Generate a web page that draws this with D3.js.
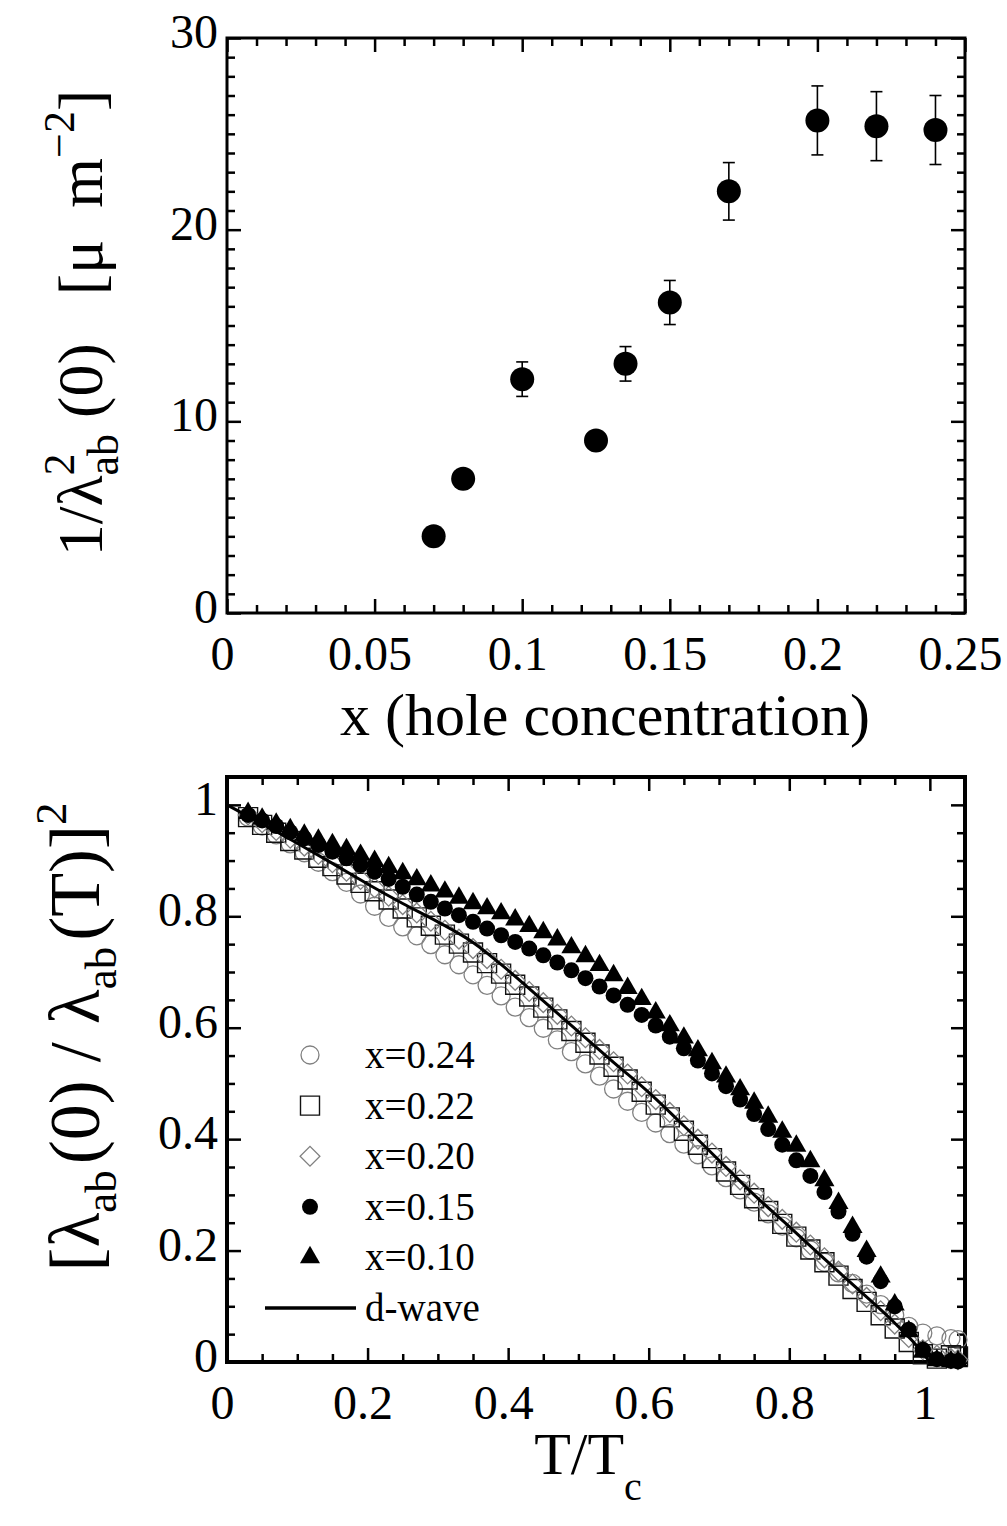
<!DOCTYPE html>
<html>
<head>
<meta charset="utf-8">
<script src="https://cdn.jsdelivr.net/npm/d3@7"></script>
<style>
  body { margin: 0; background: #fff; }
  text { font-family: "Liberation Serif", "Times New Roman", serif; fill: #000; }
</style>
</head>
<body>
<div id="vizcontainer"></div>
<script>

// ---- top panel: superfluid density vs hole concentration
const holeX = [0.07, 0.08, 0.10, 0.125, 0.135, 0.15, 0.17, 0.20, 0.22, 0.24];
const invLambdaSq = [4.0, 7.0, 12.2, 9.0, 13.0, 16.2, 22.0, 25.7, 25.4, 25.2];
const invLambdaErr = [0, 0, 0.9, 0.4, 0.9, 1.15, 1.5, 1.8, 1.8, 1.8];

const topXTicks = [0, 0.05, 0.1, 0.15, 0.2, 0.25];
const topXLabels = ['0', '0.05', '0.1', '0.15', '0.2', '0.25'];
const topYTicks = [0, 10, 20, 30];
const topYLabels = ['0', '10', '20', '30'];

// ---- bottom panel: normalised superfluid density vs T/Tc
const tGrid = [0.03, 0.05, 0.07, 0.09, 0.11, 0.13, 0.15, 0.17, 0.19, 0.21,
  0.23, 0.25, 0.27, 0.29, 0.31, 0.33, 0.35, 0.37, 0.39, 0.41,
  0.43, 0.45, 0.47, 0.49, 0.51, 0.53, 0.55, 0.57, 0.59, 0.61,
  0.63, 0.65, 0.67, 0.69, 0.71, 0.73, 0.75, 0.77, 0.79, 0.81,
  0.83, 0.85, 0.87, 0.89, 0.91, 0.93, 0.95, 0.97, 0.99, 1.01,
  1.03, 1.04];

const rhoX024 = [0.978, 0.962, 0.946, 0.930, 0.914, 0.897, 0.880, 0.861, 0.840, 0.818,
  0.798, 0.781, 0.765, 0.749, 0.731, 0.713, 0.695, 0.676, 0.657, 0.637,
  0.618, 0.599, 0.578, 0.557, 0.535, 0.513, 0.490, 0.468, 0.448, 0.429,
  0.410, 0.391, 0.372, 0.352, 0.331, 0.309, 0.287, 0.266, 0.244, 0.223,
  0.201, 0.179, 0.160, 0.141, 0.122, 0.103, 0.084, 0.064, 0.052, 0.047,
  0.042, 0.040];

const rhoX022 = [0.978, 0.964, 0.950, 0.935, 0.920, 0.905, 0.890, 0.875, 0.860, 0.845,
  0.830, 0.814, 0.798, 0.783, 0.767, 0.751, 0.735, 0.716, 0.697, 0.677,
  0.656, 0.636, 0.615, 0.594, 0.573, 0.552, 0.530, 0.507, 0.485, 0.462,
  0.439, 0.415, 0.390, 0.366, 0.342, 0.318, 0.294, 0.271, 0.248, 0.225,
  0.202, 0.179, 0.155, 0.131, 0.108, 0.084, 0.060, 0.036, 0.014, 0.006,
  0.012, 0.010];

const rhoX020 = [0.982, 0.968, 0.954, 0.940, 0.926, 0.911, 0.896, 0.881, 0.866, 0.851,
  0.836, 0.821, 0.806, 0.791, 0.775, 0.759, 0.742, 0.724, 0.705, 0.685,
  0.665, 0.645, 0.624, 0.603, 0.582, 0.561, 0.539, 0.517, 0.494, 0.471,
  0.448, 0.424, 0.400, 0.375, 0.351, 0.327, 0.303, 0.279, 0.256, 0.233,
  0.210, 0.187, 0.163, 0.140, 0.116, 0.092, 0.068, 0.044, 0.022, 0.012,
  0.006, 0.004];

const rhoX015 = [0.982, 0.972, 0.962, 0.951, 0.940, 0.928, 0.916, 0.904, 0.892, 0.880,
  0.867, 0.853, 0.839, 0.826, 0.814, 0.802, 0.790, 0.778, 0.766, 0.754,
  0.742, 0.730, 0.717, 0.703, 0.689, 0.674, 0.658, 0.641, 0.623, 0.604,
  0.584, 0.563, 0.541, 0.518, 0.495, 0.471, 0.445, 0.418, 0.390, 0.362,
  0.334, 0.305, 0.270, 0.230, 0.189, 0.145, 0.100, 0.058, 0.022, 0.005,
  0.002, 0.001];

const rhoX010 = [0.985, 0.975, 0.966, 0.956, 0.946, 0.937, 0.929, 0.920, 0.910, 0.899,
  0.888, 0.877, 0.866, 0.855, 0.844, 0.833, 0.823, 0.814, 0.805, 0.794,
  0.782, 0.771, 0.758, 0.744, 0.728, 0.712, 0.694, 0.671, 0.651, 0.627,
  0.604, 0.582, 0.559, 0.536, 0.512, 0.489, 0.465, 0.440, 0.413, 0.388,
  0.360, 0.326, 0.285, 0.242, 0.199, 0.153, 0.103, 0.055, 0.018, 0.003,
  0.001, 0.001];

const dwaveT = [0, 0.05, 0.10, 0.15, 0.20, 0.25, 0.30, 0.35, 0.40, 0.45,
  0.50, 0.55, 0.60, 0.65, 0.70, 0.75, 0.80, 0.85, 0.90, 0.95, 0.975, 1.0];
const dwaveRho = [1.000, 0.966, 0.931, 0.895, 0.858, 0.823, 0.790, 0.753, 0.703, 0.648,
  0.593, 0.538, 0.484, 0.424, 0.362, 0.300, 0.243, 0.185, 0.128, 0.070, 0.038, 0.000];

const legendLabels = ['x=0.24', 'x=0.22', 'x=0.20', 'x=0.15', 'x=0.10', 'd-wave'];

const botXTicks = [0, 0.2, 0.4, 0.6, 0.8, 1];
const botXLabels = ['0', '0.2', '0.4', '0.6', '0.8', '1'];
const botYTicks = [0, 0.2, 0.4, 0.6, 0.8, 1];
const botYLabels = ['0', '0.2', '0.4', '0.6', '0.8', '1'];


const
  width = 1007,
  height = 1526;

let viz = d3.select('#vizcontainer')
  .append('svg')
  .attr('width', width)
  .attr('height', height)
  ;

const tickFont = 48;
const labelFont = 58;
const grey = '#808080';


// scales
const xTop = d3.scaleLinear().domain([0, 0.25]).range([227, 965]);
const yTop = d3.scaleLinear().domain([0, 30]).range([613, 38]);
const xBot = d3.scaleLinear().domain([0, 1.05]).range([227, 965]);
const yBot = d3.scaleLinear().domain([0, 1.05]).range([1362, 777]);


// inward ticks on all four sides + frame
function drawFrame(x, y, xMajor, xLabels, xMinor, yMajor, yLabels, yMinor, frameW) {
  const [x0, x1] = x.range();
  const [y0, y1] = y.range(); // y0 bottom, y1 top

  const sides = [
    { gen: d3.axisBottom, s: x, at: `translate(0,${y0})`, major: xMajor, minor: xMinor, labels: xLabels },
    { gen: d3.axisTop, s: x, at: `translate(0,${y1})`, major: xMajor, minor: xMinor, labels: null },
    { gen: d3.axisLeft, s: y, at: `translate(${x0},0)`, major: yMajor, minor: yMinor, labels: yLabels },
    { gen: d3.axisRight, s: y, at: `translate(${x1},0)`, major: yMajor, minor: yMinor, labels: null }
  ];

  sides.forEach(sd => {
    const gMinor = viz.append('g')
      .attr('transform', sd.at)
      .call(sd.gen(sd.s).tickValues(sd.minor).tickSize(-8).tickFormat(''));
    gMinor.select('.domain').remove();
    gMinor.selectAll('line').attr('stroke-width', 2.5);

    const gMajor = viz.append('g')
      .attr('transform', sd.at)
      .call(sd.gen(sd.s)
        .tickValues(sd.major)
        .tickSize(-14)
        .tickPadding(sd.gen === d3.axisBottom ? 23 : 9)
        .tickFormat((d, i) => sd.labels ? sd.labels[i] : ''));
    gMajor.select('.domain').remove();
    gMajor.selectAll('line').attr('stroke-width', 2.5);
    gMajor.attr('font-size', tickFont).attr('font-family', null);
    if (sd.gen === d3.axisBottom) gMajor.selectAll('text').attr('dx', -5);
    if (sd.gen === d3.axisLeft) gMajor.selectAll('text').attr('dy', '0.2em');
  });

  viz.append('rect')
    .attr('x', x0)
    .attr('y', y1)
    .attr('width', x1 - x0)
    .attr('height', y0 - y1)
    .attr('fill', 'none')
    .attr('stroke', 'black')
    .attr('stroke-width', frameW);
}

function minorOf(lo, hi, step, major) {
  return d3.range(lo, hi + step / 2, step)
    .filter(v => !major.some(m => Math.abs(m - v) < step / 10));
}


// ================= TOP PANEL =================
drawFrame(xTop, yTop,
  topXTicks, topXLabels, minorOf(0, 0.25, 0.01, topXTicks),
  topYTicks, topYLabels, minorOf(0, 30, 1, topYTicks), 3);

const topData = holeX.map((x, i) => ({ x: x, y: invLambdaSq[i], e: invLambdaErr[i] }));

const errG = viz.append('g')
  .attr('stroke', 'black')
  .attr('stroke-width', 1.6);

errG.selectAll('line.bar')
  .data(topData.filter(d => d.e > 0))
  .join('line')
  .attr('x1', d => xTop(d.x))
  .attr('x2', d => xTop(d.x))
  .attr('y1', d => yTop(d.y - d.e))
  .attr('y2', d => yTop(d.y + d.e));

errG.selectAll('line.capHi')
  .data(topData.filter(d => d.e > 0))
  .join('line')
  .attr('x1', d => xTop(d.x) - 6)
  .attr('x2', d => xTop(d.x) + 6)
  .attr('y1', d => yTop(d.y + d.e))
  .attr('y2', d => yTop(d.y + d.e));

errG.selectAll('line.capLo')
  .data(topData.filter(d => d.e > 0))
  .join('line')
  .attr('x1', d => xTop(d.x) - 6)
  .attr('x2', d => xTop(d.x) + 6)
  .attr('y1', d => yTop(d.y - d.e))
  .attr('y2', d => yTop(d.y - d.e));

viz.append('g')
  .selectAll('circle')
  .data(topData)
  .join('circle')
  .attr('cx', d => xTop(d.x))
  .attr('cy', d => yTop(d.y))
  .attr('r', 12)
  .attr('fill', 'black');

// axis titles top
viz.append('text')
  .attr('x', 605)
  .attr('y', 735)
  .attr('text-anchor', 'middle')
  .attr('font-size', labelFont + 2)
  .text('x (hole concentration)');

const yt1 = viz.append('text')
  .attr('transform', 'translate(102,323) rotate(-90)')
  .attr('text-anchor', 'middle')
  .attr('font-size', 64)
  .style('white-space', 'pre');
yt1.append('tspan').text('1/λ');
yt1.append('tspan').attr('font-size', 44).attr('dy', -28).text('2');
yt1.append('tspan').attr('font-size', 44).attr('dx', -22).attr('dy', 44).text('ab');
yt1.append('tspan').attr('dy', -16).text(' (0)   [μ  m');
yt1.append('tspan').attr('font-size', 44).attr('dy', -28).text('−2');
yt1.append('tspan').attr('dy', 28).text(']');


// ================= BOTTOM PANEL =================
drawFrame(xBot, yBot,
  botXTicks, botXLabels, minorOf(0, 1.05, 0.05, botXTicks),
  botYTicks, botYLabels, minorOf(0, 1.05, 0.05, botYTicks), 4);

const series = [
  { vals: rhoX024, kind: 'circle' },
  { vals: rhoX022, kind: 'square' },
  { vals: rhoX020, kind: 'diamond' },
  { vals: rhoX015, kind: 'dot' },
  { vals: rhoX010, kind: 'triangle' }
];

function marker(sel, kind) {
  if (kind === 'circle') {
    sel.append('circle').attr('r', 9).attr('fill', 'none').attr('stroke', grey).attr('stroke-width', 1.3);
  } else if (kind === 'square') {
    sel.append('path').attr('d', d3.symbol(d3.symbolSquare, 19 * 19)())
      .attr('fill', 'none').attr('stroke', '#111').attr('stroke-width', 1.4);
  } else if (kind === 'diamond') {
    sel.append('path').attr('d', d3.symbol(d3.symbolSquare, 14 * 14)())
      .attr('transform', 'rotate(45)')
      .attr('fill', 'none').attr('stroke', grey).attr('stroke-width', 1.3);
  } else if (kind === 'dot') {
    sel.append('circle').attr('r', 8).attr('fill', 'black');
  } else {
    sel.append('path').attr('d', d3.symbol(d3.symbolTriangle, 175)())
      .attr('fill', 'black');
  }
}

series.forEach(s => {
  const pts = tGrid.map((t, i) => ({ t: t, v: s.vals[i] }));
  viz.append('g')
    .selectAll('g')
    .data(pts)
    .join('g')
    .attr('transform', d => `translate(${xBot(d.t)},${yBot(d.v)})`)
    .each(function () { marker(d3.select(this), s.kind); });
});

viz.append('path')
  .datum(dwaveT.map((t, i) => ({ t: t, v: dwaveRho[i] })))
  .attr('fill', 'none')
  .attr('stroke', 'black')
  .attr('stroke-width', 3)
  .attr('d', d3.line()
    .curve(d3.curveMonotoneX)
    .x(d => xBot(d.t))
    .y(d => yBot(d.v))
  );

// legend
const legKinds = ['circle', 'square', 'diamond', 'dot', 'triangle', 'line'];
const leg = viz.append('g');
legKinds.forEach((k, i) => {
  const row = leg.append('g').attr('transform', `translate(310,${1055 + i * 50.6})`);
  if (k === 'line') {
    row.append('line')
      .attr('x1', -45).attr('x2', 46)
      .attr('stroke', 'black').attr('stroke-width', 3.5);
  } else {
    marker(row, k);
  }
  row.append('text')
    .attr('x', 55)
    .attr('y', 13)
    .attr('font-size', 39)
    .text(legendLabels[i]);
});

// axis titles bottom
const xt2 = viz.append('text')
  .attr('x', 588)
  .attr('y', 1474)
  .attr('text-anchor', 'middle')
  .attr('font-size', labelFont + 2);
xt2.append('tspan').text('T/T');
xt2.append('tspan').attr('font-size', 40).attr('dy', 26).text('c');

const yt2 = viz.append('text')
  .attr('transform', 'translate(99,1037) rotate(-90)')
  .attr('text-anchor', 'middle')
  .attr('font-size', 72)
  .style('white-space', 'pre');
yt2.append('tspan').text('[λ');
yt2.append('tspan').attr('font-size', 45).attr('dy', 17).text('ab');
yt2.append('tspan').attr('dx', 6).attr('dy', -17).text('(0) / λ');
yt2.append('tspan').attr('font-size', 45).attr('dy', 17).text('ab');
yt2.append('tspan').attr('dx', 6).attr('dy', -17).text('(T)]');
yt2.append('tspan').attr('font-size', 45).attr('dy', -33).text('2');

</script>
</body>
</html>
